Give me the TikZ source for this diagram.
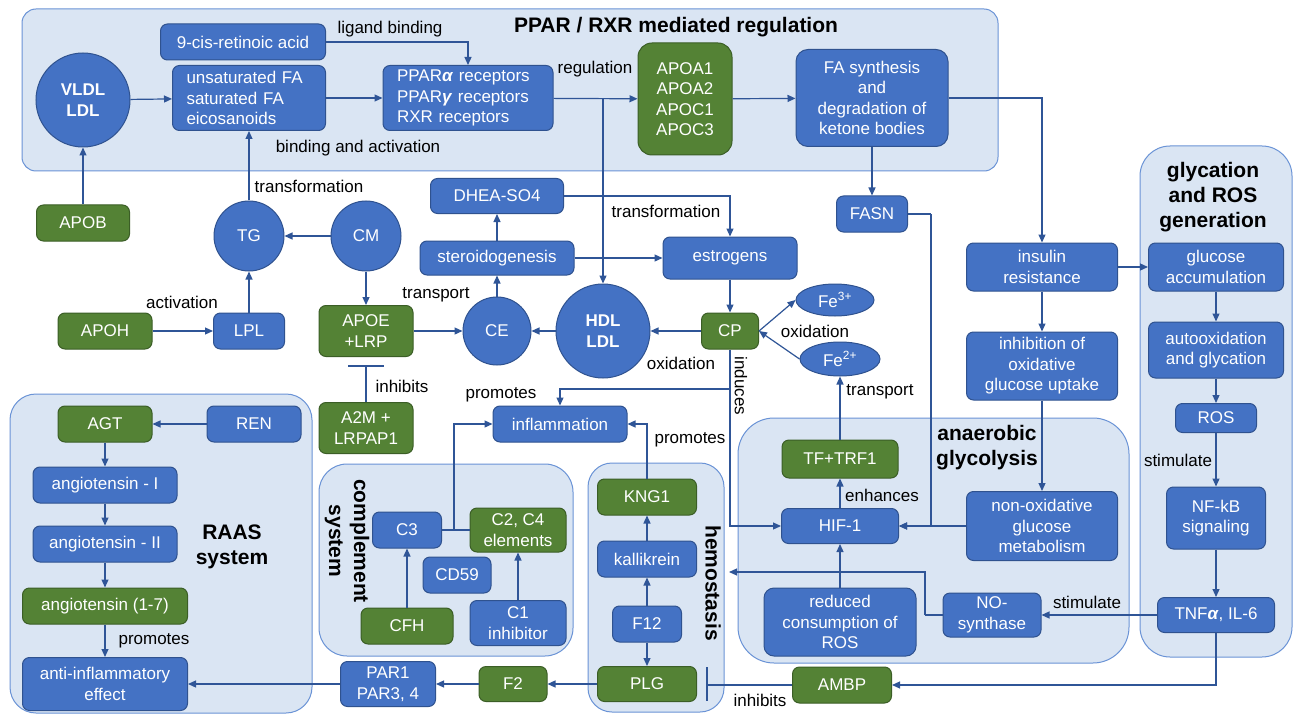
\documentclass[tikz,border=0pt]{standalone}
\usepackage{fontspec}
\setmainfont{Liberation Sans}
\usetikzlibrary{arrows.meta,shapes.geometric}
\definecolor{nblue}{HTML}{4472C4}
\definecolor{nblueb}{HTML}{2F528F}
\definecolor{ngreen}{HTML}{548235}
\definecolor{ngreenb}{HTML}{3B5E26}
\definecolor{gfill}{HTML}{DAE5F3}
\definecolor{gdraw}{HTML}{6A93D6}
\definecolor{acol}{HTML}{2F5597}
\tikzset{
  txt/.style={font=\fontsize{17}{20.5}\selectfont},
  box/.style={rectangle, rounded corners=7pt, draw=nblueb, fill=nblue, line width=1pt, text=white, txt, inner sep=0pt, align=center},
  gbox/.style={box, fill=ngreen, draw=ngreenb},
  cbox/.style={circle, draw=nblueb, fill=nblue, line width=1pt, text=white, txt, inner sep=0pt, align=center},
  ebox/.style={ellipse, draw=nblueb, fill=nblue, line width=1pt, text=white, txt, inner sep=0pt, align=center},
  grp/.style={draw=gdraw, fill=gfill, line width=1pt},
  lbl/.style={txt, text=black, inner sep=0pt},
  ttl/.style={font=\fontsize{21}{25}\selectfont\bfseries, text=black, align=center, inner sep=0pt},
  conn/.style={draw=acol, line width=1.2pt, -{Triangle[length=8pt,width=7pt]}},
  ln/.style={draw=acol, line width=1.2pt},
}
\begin{document}
\begin{tikzpicture}[x=1pt,y=-1pt]
\useasboundingbox (0,0) rectangle (1295,714);
\fill[white] (0,0) rectangle (1295,714);
% groups
\draw[grp, rounded corners=14pt] (22,9) rectangle (998,171);
\draw[grp, rounded corners=30pt] (1140,146) rectangle (1292,657);
\draw[grp, rounded corners=36pt] (738,418) rectangle (1129,663);
\draw[grp, rounded corners=26pt] (10,394) rectangle (312,713);
\draw[grp, rounded corners=28pt] (319,464) rectangle (573,656);
\draw[grp, rounded corners=24pt] (588,463) rectangle (724,712);
% titles
\node[ttl] (t1) at (676,27) {PPAR / RXR mediated regulation};
\node[ttl] (t2) at (1213,197) {glycation\\and ROS\\generation};
\node[ttl] (t3) at (987,448) {anaerobic\\glycolysis};
\node[ttl] (t4) at (232,547) {RAAS\\system};
\node[ttl, rotate=-90] (t5) at (347,541) {complement\\system};
\node[ttl, rotate=-90] (t6) at (713,583) {hemostasis};
% nodes
\node[cbox, minimum size=94pt, font=\fontsize{17}{20.5}\selectfont\bfseries] (vldl) at (83,100) {VLDL\\LDL};
\node[box, minimum width=165pt, minimum height=36pt] (cis) at (243,42) {9-cis-retinoic acid};
\node[box, minimum width=153pt, minimum height=65pt, text width=125pt, align=left] (fa) at (249,98) {unsaturated FA\\saturated FA\\eicosanoids};
\node[box, minimum width=170pt, minimum height=65pt, text width=142pt, align=left] (ppar) at (468,98) {PPAR\textbf{\textit{α}} receptors\\PPAR\textbf{\textit{γ}} receptors\\RXR receptors};
\node[gbox, rounded corners=14pt, minimum width=94pt, minimum height=112pt] (apoa) at (685,99) {APOA1\\APOA2\\APOC1\\APOC3};
\node[box, rounded corners=12pt, minimum width=152pt, minimum height=97pt] (fas) at (872,98) {FA synthesis\\and\\degradation of\\ketone bodies};
\node[gbox, minimum width=93pt, minimum height=36pt] (apob) at (83,223) {APOB};
\node[cbox, minimum size=70pt] (tg) at (249,236) {TG};
\node[cbox, minimum size=70pt] (cm) at (366,236) {CM};
\node[box, minimum width=133pt, minimum height=35pt] (dhea) at (497,196) {DHEA-SO4};
\node[box, minimum width=154pt, minimum height=34pt] (ster) at (497,258) {steroidogenesis};
\node[box, minimum width=134pt, minimum height=42pt] (estr) at (730,258) {estrogens};
\node[box, minimum width=71pt, minimum height=36pt] (fasn) at (872,214) {FASN};
\node[box, minimum width=151pt, minimum height=48pt] (ins) at (1042,267) {insulin\\resistance};
\node[box, minimum width=135pt, minimum height=48pt] (gluc) at (1216,267) {glucose\\accumulation};
\node[box, minimum width=135pt, minimum height=56pt] (auto) at (1216,350) {autooxidation\\and glycation};
\node[box, minimum width=81pt, minimum height=29pt] (ros) at (1216,418) {ROS};
\node[box, minimum width=99pt, minimum height=62pt] (nfkb) at (1216,518) {NF-kB\\signaling};
\node[box, minimum width=117pt, minimum height=35pt] (tnf) at (1216,615) {TNF\textbf{\textit{α}}, IL-6};
\node[box, minimum width=151pt, minimum height=68pt] (inh) at (1042,366) {inhibition of\\oxidative\\glucose uptake};
\node[box, minimum width=151pt, minimum height=69pt] (nonox) at (1042,526) {non-oxidative\\glucose\\metabolism};
\node[box, minimum width=117pt, minimum height=35pt] (hif) at (840,526) {HIF-1};
\node[gbox, minimum width=116pt, minimum height=38pt] (tf) at (840,459) {TF+TRF1};
\node[box, rounded corners=10pt, minimum width=152pt, minimum height=68pt] (red) at (840,622) {reduced\\consumption of\\ROS};
\node[box, minimum width=98pt, minimum height=44pt] (nos) at (992,615) {NO-\\synthase};
\node[gbox, minimum width=99pt, minimum height=36pt] (ambp) at (842,685) {AMBP};
\node[gbox, minimum width=57pt, minimum height=36pt] (cp) at (730,331) {CP};
\node[ebox, minimum width=78pt, minimum height=32pt] (fe3) at (835,300) {Fe\textsuperscript{3+}};
\node[ebox, minimum width=80pt, minimum height=34pt] (fe2) at (840,359) {Fe\textsuperscript{2+}};
\node[cbox, minimum size=94pt, font=\fontsize{17}{20.5}\selectfont\bfseries] (hdl) at (603,331) {HDL\\LDL};
\node[cbox, minimum size=68pt] (ce) at (497,331) {CE};
\node[gbox, minimum width=94pt, minimum height=51pt] (apoe) at (366,331) {APOE\\+LRP};
\node[gbox, minimum width=94pt, minimum height=36pt] (apoh) at (105,331) {APOH};
\node[box, minimum width=71pt, minimum height=36pt] (lpl) at (249,331) {LPL};
\node[gbox, minimum width=94pt, minimum height=51pt] (a2m) at (366,428) {A2M +\\LRPAP1};
\node[box, minimum width=134pt, minimum height=36pt] (infl) at (560,424) {inflammation};
\node[gbox, minimum width=94pt, minimum height=36pt] (agt) at (105,424) {AGT};
\node[box, minimum width=94pt, minimum height=36pt] (ren) at (254,424) {REN};
\node[box, minimum width=144pt, minimum height=36pt] (ang1) at (105,485) {angiotensin - I};
\node[box, minimum width=144pt, minimum height=36pt] (ang2) at (105,544) {angiotensin - II};
\node[gbox, minimum width=165pt, minimum height=36pt] (ang17) at (105,606) {angiotensin (1-7)};
\node[box, minimum width=165pt, minimum height=53pt] (anti) at (105,684) {anti-inflammatory\\effect};
\node[box, minimum width=95pt, minimum height=45pt] (par) at (388,684) {PAR1\\PAR3, 4};
\node[gbox, minimum width=68pt, minimum height=35pt] (f2) at (513,684) {F2};
\node[gbox, minimum width=99pt, minimum height=35pt] (plg) at (647,684) {PLG};
\node[box, minimum width=69pt, minimum height=36pt] (f12) at (647,624) {F12};
\node[box, minimum width=99pt, minimum height=36pt] (kal) at (647,559) {kallikrein};
\node[gbox, minimum width=99pt, minimum height=36pt] (kng) at (647,497) {KNG1};
\node[box, minimum width=69pt, minimum height=36pt] (c3) at (407,530) {C3};
\node[gbox, minimum width=96pt, minimum height=44pt] (c2) at (518,530) {C2, C4\\elements};
\node[box, minimum width=68pt, minimum height=36pt] (cd59) at (457,575) {CD59};
\node[gbox, minimum width=92pt, minimum height=36pt] (cfh) at (407,626) {CFH};
\node[box, minimum width=96pt, minimum height=45pt] (c1) at (518,623) {C1\\inhibitor};
% helper coordinates
\coordinate (jp) at (603,98);
\coordinate (jf) at (931,214);
\coordinate (jc) at (730,389);
\coordinate (jc3) at (454,530);
\coordinate (jn) at (925,615);
\coordinate (hemo) at (729,572);
\coordinate (ib1) at (707,685);
\coordinate (ib1a) at (707,667);
\coordinate (ib1b) at (707,701);
\coordinate (ib2) at (366,366);
\coordinate (ib2a) at (348,366);
\coordinate (ib2b) at (384,366);
% connectors
\draw[conn] (apob) -- (vldl);
\draw[conn] (vldl) -- (fa);
\draw[conn] (fa) -- (ppar);
\draw[conn] (cis.east) -| (ppar.north);
\draw[conn] (ppar) -- (apoa);
\draw[conn] (jp) -- (hdl.north);
\draw[conn] (apoa) -- (fas);
\draw[conn] (fas) -- (fasn);
\draw[conn] (fas.east) -| (ins.north);
\draw[ln] (fasn.east) -- (jf);
\draw[conn] (jf) |- (hif.east);
\draw[conn] (nonox) -- (hif);
\draw[conn] (tg) -- (fa);
\draw[conn] (cm) -- (tg);
\draw[conn] (cm) -- (apoe);
\draw[conn] (lpl) -- (tg);
\draw[conn] (apoh) -- (lpl);
\draw[conn] (apoe) -- (ce);
\draw[conn] (ce) -- (ster);
\draw[conn] (ster) -- (dhea);
\draw[conn] (dhea.east) -| (estr.north);
\draw[conn] (ster) -- (estr);
\draw[conn] (estr) -- (cp);
\draw[conn] (cp) -- (hdl);
\draw[conn] (hdl) -- (ce);
\draw[conn] (cp.east) -- (fe3.west);
\draw[conn] (fe2.west) -- (cp.east);
\draw[conn] (tf) -- (fe2);
\draw[conn] (hif) -- (tf);
\draw[conn] (red) -- (hif);
\draw[conn] (cp.south) |- (hif.west);
\draw[conn] (jc) -| (infl.north);
\draw[conn] (kng.north) |- (infl.east);
\draw[ln] (c3) -- (c2);
\draw[conn] (jc3) |- (infl.west);
\draw[conn] (cfh) -- (c3);
\draw[conn] (c1) -- (c2);
\draw[conn] (f12) -- (kal);
\draw[conn] (kal) -- (kng);
\draw[conn] (f12) -- (plg);
\draw[conn] (plg) -- (f2);
\draw[conn] (f2) -- (par);
\draw[conn] (par) -- (anti);
\draw[ln] (ambp) -- (ib1);
\draw[ln] (ib1a) -- (ib1b);
\draw[conn] (tnf.south) |- (ambp.east);
\draw[conn] (tnf) -- (nos);
\draw[ln] (nos.west) -- (jn);
\draw[conn] (jn) |- (hemo);
\draw[conn] (ins) -- (gluc);
\draw[conn] (ins) -- (inh);
\draw[conn] (inh) -- (nonox);
\draw[conn] (gluc) -- (auto);
\draw[conn] (auto) -- (ros);
\draw[conn] (ros) -- (nfkb);
\draw[conn] (nfkb) -- (tnf);
\draw[ln] (a2m) -- (ib2);
\draw[ln] (ib2a) -- (ib2b);
\draw[conn] (ren) -- (agt);
\draw[conn] (agt) -- (ang1);
\draw[conn] (ang1) -- (ang2);
\draw[conn] (ang2) -- (ang17);
\draw[conn] (ang17) -- (anti);
% labels
\node[lbl] (l1) at (390,29) {ligand binding};
\node[lbl] (l2) at (595,69) {regulation};
\node[lbl] (l3) at (358,148) {binding and activation};
\node[lbl] (l4) at (309,186) {transformation};
\node[lbl] (l5) at (182,302) {activation};
\node[lbl] (l6) at (436,295) {transport};
\node[lbl] (l7) at (402,386) {inhibits};
\node[lbl] (l8) at (666,211) {transformation};
\node[lbl] (l9) at (681,363) {oxidation};
\node[lbl] (l10) at (815,331) {oxidation};
\node[lbl] (l11) at (501,395) {promotes};
\node[lbl] (l12) at (690,440) {promotes};
\node[lbl] (l13) at (880,392) {transport};
\node[lbl] (l14) at (882,495) {enhances};
\node[lbl] (l15) at (1178,460) {stimulate};
\node[lbl] (l16) at (1087,602) {stimulate};
\node[lbl] (l17) at (760,700) {inhibits};
\node[lbl] (l18) at (154,641) {promotes};
\node[lbl, rotate=-90] (l19) at (741,386) {induces};
\end{tikzpicture}
\end{document}
